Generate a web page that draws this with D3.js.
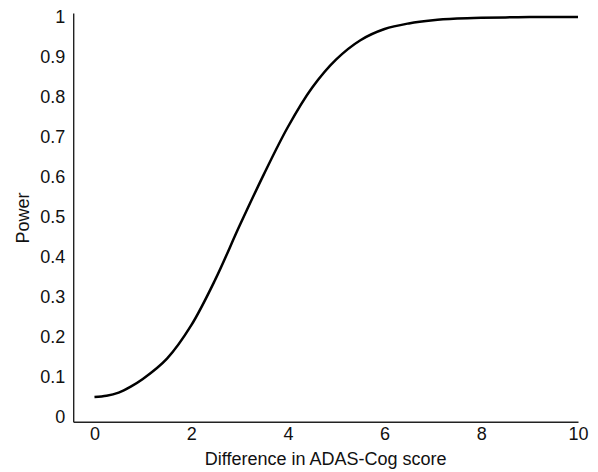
<!DOCTYPE html>
<html>
<head>
<meta charset="utf-8">
<script src="https://cdn.jsdelivr.net/npm/d3@7"></script>
<style>
  body { margin: 0; background: #fff; }
  text { font-family: "Liberation Sans", Arial, Helvetica, sans-serif; fill: #111; }
</style>
</head>
<body>
<svg id="chart"></svg>
<script>
// values
const diffValues = [0, 0.25, 0.5, 0.75, 1, 1.5, 2, 2.5, 3, 3.5, 4, 4.5, 5, 5.5, 6, 6.5, 7, 7.5, 8, 8.5, 9, 10];
const powerValues = [0.05, 0.053, 0.061, 0.076, 0.095, 0.146, 0.229, 0.344, 0.478, 0.606, 0.725, 0.823, 0.894, 0.942, 0.970, 0.984, 0.992, 0.996, 0.998, 0.999, 1.0, 1.0];
const xTicks = [0, 2, 4, 6, 8, 10];
const yTicks = ["0", "0.1", "0.2", "0.3", "0.4", "0.5", "0.6", "0.7", "0.8", "0.9", "1"];

let width = 598;
let height = 472;

let svg = d3.select('#chart')
    .attr('width', width)
    .attr('height', height);

let xScale = d3.scaleLinear()
    .domain([-0.44, 10])
    .range([73.2, 578]);
let yScale = d3.scaleLinear()
    .domain([-0.012, 1.01])
    .range([421.8, 13]);

let xAxis = d3.axisBottom(xScale)
    .tickValues(xTicks)
    .tickSize(0)
    .tickPadding(5.5)
    .tickFormat(d3.format('d'));
let yAxis = d3.axisLeft(yScale)
    .tickValues(yTicks.map(Number))
    .tickSize(0)
    .tickPadding(8)
    .tickFormat((d, i) => yTicks[i]);

svg.append('g')
    .attr('transform', `translate(0,${yScale.range()[0]})`)
    .call(xAxis);
svg.append('g')
    .attr('transform', `translate(${xScale.range()[0]},0)`)
    .call(yAxis);

svg.selectAll('.domain')
    .attr('stroke', '#222')
    .attr('stroke-width', 1.4);
svg.selectAll('.tick text')
    .attr('font-size', 18)
    .attr('font-family', '"Liberation Sans", Arial, sans-serif')
    .attr('fill', '#111');

let line = d3.line()
    .x((d, i) => xScale(diffValues[i]))
    .y((d) => yScale(d))
    .curve(d3.curveCatmullRom.alpha(0.5));

svg.append('path')
    .datum(powerValues)
    .attr('d', line)
    .attr('fill', 'none')
    .attr('stroke', '#000')
    .attr('stroke-width', 2.5);

// axis titles
svg.append('text')
    .text('Difference in ADAS-Cog score')
    .attr('x', (xScale.range()[0] + xScale.range()[1]) / 2)
    .attr('y', 465)
    .attr('text-anchor', 'middle')
    .attr('font-size', 18);
svg.append('text')
    .text('Power')
    .attr('transform', `translate(29,218) rotate(-90)`)
    .attr('text-anchor', 'middle')
    .attr('font-size', 18);
</script>
</body>
</html>
